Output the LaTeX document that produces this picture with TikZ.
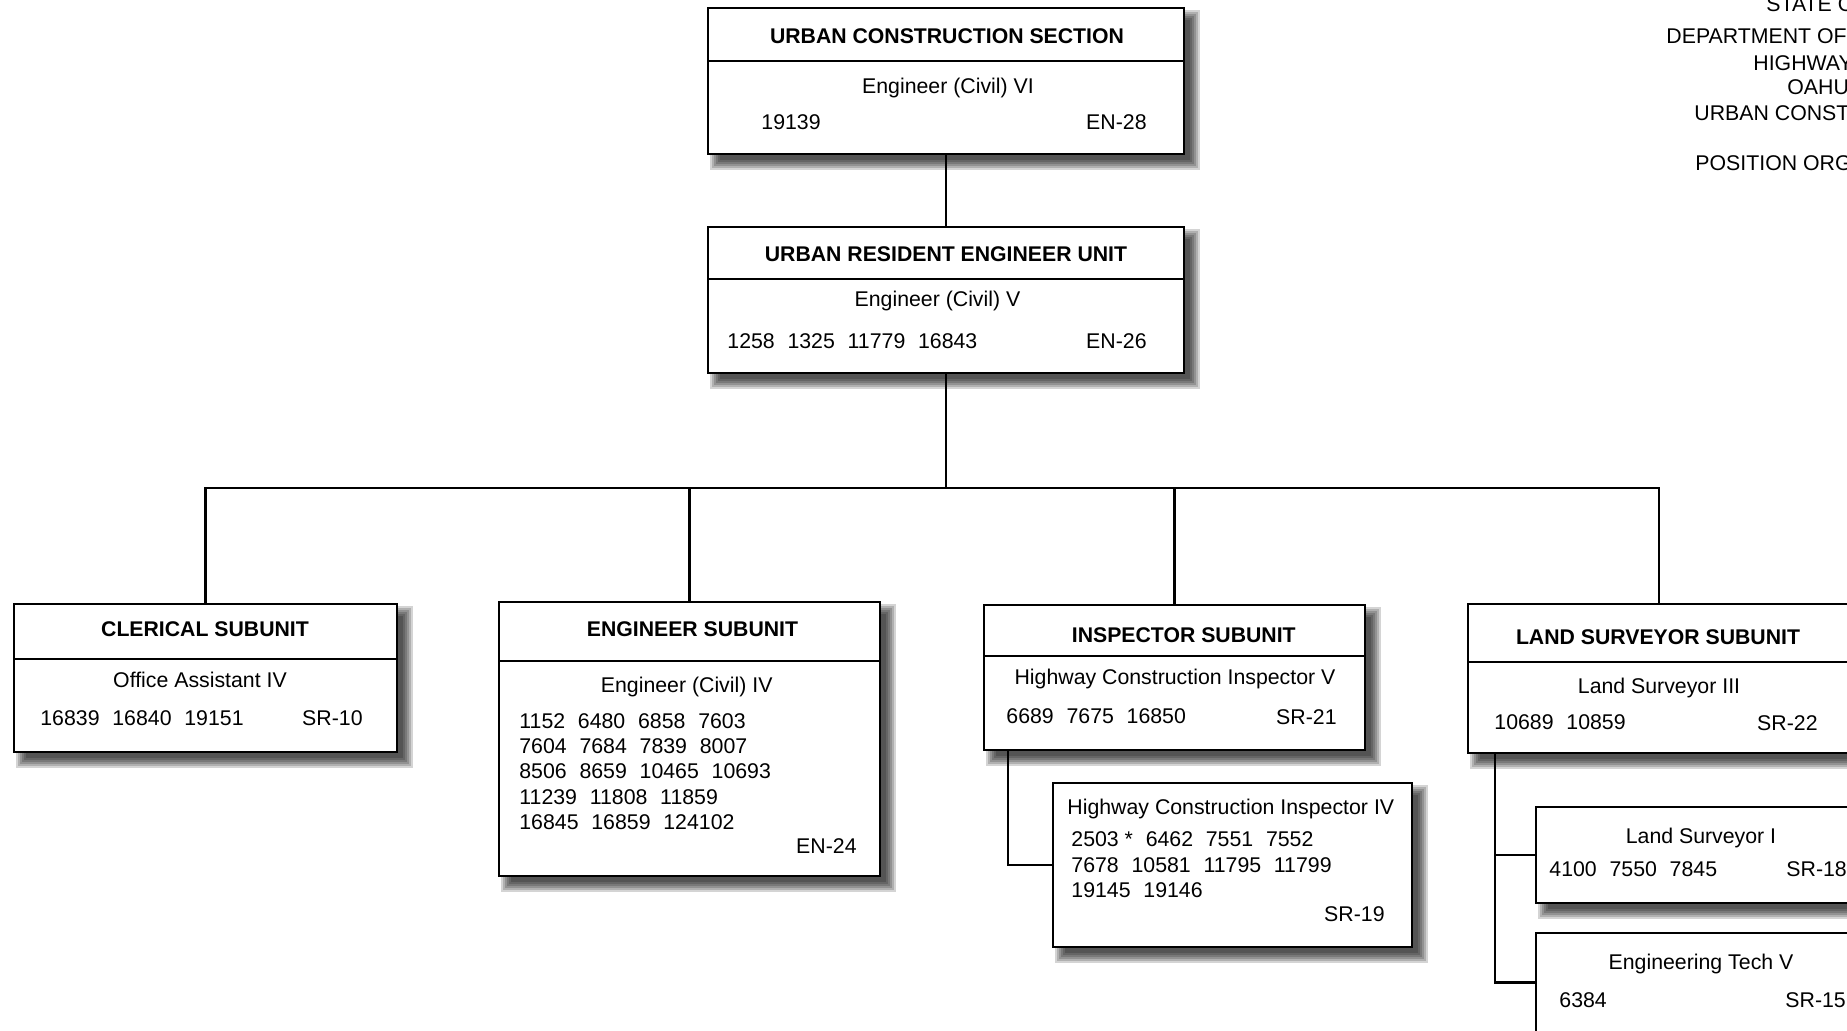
\documentclass[tikz,border=0pt]{standalone}
\usepackage{fontspec}
\setmainfont{Liberation Sans}
\usetikzlibrary{calc}
\pgfdeclarelayer{bg}
\pgfsetlayers{bg,main}

\newcommand\gp{\hspace{0.6em}}
\tikzset{
  orgbox/.style={draw=black, line width=1.35pt, fill=white, rectangle, inner sep=0pt, outer sep=0pt},
  divider/.style={line width=0.65pt},
  link/.style={line width=1.05pt},
  ttl/.style={font=\bfseries\fontsize{10.62}{12}\selectfont, anchor=base, inner sep=0pt},
  txt/.style={font=\fontsize{10.65}{12}\selectfont, anchor=base, inner sep=0pt},
  txtl/.style={txt, anchor=base west},
  txtr/.style={txt, anchor=base east},
}

% name, x1, y1, x2, y2 (pixel units, y downwards)
\newcommand\orgunit[5]{%
  \begin{pgfonlayer}{bg}
    \foreach \r in {7,5,3,1,-1,-3} {%
      \fill[black,opacity=0.17] ({#2+9-(\r)},{#3+9-(\r)}) rectangle ({#4+9+(\r)},{#5+9+(\r)});
    }
  \end{pgfonlayer}
  \node[orgbox, minimum width={(#4-#2)*0.5pt}, minimum height={(#5-#3)*0.5pt}] (#1) at ({(#2+#4)/2},{(#3+#5)/2}) {};
}

\begin{document}
\begin{tikzpicture}[x=0.5pt,y=-0.5pt]
\useasboundingbox (0,0) rectangle (1847,1031);
\clip (0,0) rectangle (1847,1031);

% header (cut off at the right edge)
\node[txtl] (h1) at (1766,12) {STATE O};
\node[txtl] (h2) at (1666,43.5) {DEPARTMENT OF};
\node[txtl] (h3) at (1753,70.5) {HIGHWAY};
\node[txtl] (h4) at (1787,94.5) {OAHU};
\node[txtl] (h5) at (1694,120.5) {URBAN CONST};
\node[txtl] (h6) at (1695,170.5) {POSITION ORG};

% boxes
\orgunit{A}{708}{8}{1184}{154}
\orgunit{B}{708}{227}{1184}{373}
\orgunit{C}{14}{604}{397}{752}
\orgunit{D}{499}{602}{880}{876}
\orgunit{E}{984}{605}{1365}{750}
\orgunit{F}{1053}{783}{1412}{947}
\orgunit{G}{1468}{604}{1850}{753}
\orgunit{H}{1536}{807}{1866}{903}
\orgunit{I}{1536}{933}{1866}{1032}

% dividers
\draw[divider] (A.west |- 0,61) -- (A.east |- 0,61);
\draw[divider] (B.west |- 0,279) -- (B.east |- 0,279);
\draw[divider] (C.west |- 0,659) -- (C.east |- 0,659);
\draw[divider] (D.west |- 0,661) -- (D.east |- 0,661);
\draw[divider] (E.west |- 0,656) -- (E.east |- 0,656);
\draw[divider] (G.west |- 0,662) -- (G.east |- 0,662);

% connectors
\coordinate (bus) at (946,488);
\draw[link] (A.south) -- (B.north);
\draw[link, line width=1.2pt] (B.south) -- (bus);
\draw[link] (C.north) |- (bus);
\draw[link] (D.north) |- (bus);
\draw[link] (E.north) |- (bus);
\draw[link] (G.north) |- (bus);
\draw[link] ([xshift=12pt]E.south west) |- (F.west);
\draw[link] ([xshift=13.5pt]G.south west) |- (H.west);
\draw[link] ([xshift=13.5pt]G.south west) |- (I.west);

% texts A
\node[ttl] (a0) at (947,43.5) {URBAN CONSTRUCTION SECTION};
\node[txt] (a1) at (948,93.5) {Engineer (Civil) VI};
\node[txtl] (a2) at (761,130) {19139};
\node[txtr] (a3) at (1147,130) {EN-28};

% texts B
\node[ttl] (b0) at (946,262) {URBAN RESIDENT ENGINEER UNIT};
\node[txt] (b1) at (937.5,307) {Engineer (Civil) V};
\node[txtl] (b2) at (727,349) {1258\gp1325\gp11779\gp16843};
\node[txtr] (b3) at (1147,349) {EN-26};

% texts C
\node[ttl] (c0) at (205,637) {CLERICAL SUBUNIT};
\node[txt] (c1) at (200,687) {Office Assistant IV};
\node[txtl] (c2) at (40,725) {16839\gp16840\gp19151};
\node[txtr] (c3) at (363,725) {SR-10};

% texts D
\node[ttl] (d0) at (692.5,637) {ENGINEER SUBUNIT};
\node[txt] (d1) at (686.7,692) {Engineer (Civil) IV};
\node[txtl] (d2) at (519,728) {1152\gp6480\gp6858\gp7603};
\node[txtl] (d3) at (519,753.4) {7604\gp7684\gp7839\gp8007};
\node[txtl] (d4) at (519,778.8) {8506\gp8659\gp10465\gp10693};
\node[txtl] (d5) at (519,804.2) {11239\gp11808\gp11859};
\node[txtl] (d6) at (519,829.6) {16845\gp16859\gp124102};
\node[txtr] (d7) at (857,853) {EN-24};

% texts E
\node[ttl] (e0) at (1183.8,642) {INSPECTOR SUBUNIT};
\node[txt] (e1) at (1175,684) {Highway Construction Inspector V};
\node[txtl] (e2) at (1006,723.3) {6689\gp7675\gp16850};
\node[txtr] (e3) at (1337,724) {SR-21};

% texts F
\node[txt] (f1) at (1230.8,814) {Highway Construction Inspector IV};
\node[txtl] (f2) at (1071,846.5) {2503~*\gp6462\gp7551\gp7552};
\node[txtl] (f3) at (1071,872.5) {7678\gp10581\gp11795\gp11799};
\node[txtl] (f4) at (1071,897.5) {19145\gp19146};
\node[txtr] (f5) at (1385,921.5) {SR-19};

% texts G
\node[ttl] (g0) at (1658,644.5) {LAND SURVEYOR SUBUNIT};
\node[txt] (g1) at (1659,693) {Land Surveyor III};
\node[txtl] (g2) at (1494,729.5) {10689\gp10859};
\node[txtr] (g3) at (1818,730) {SR-22};

% texts H
\node[txt] (hh1) at (1701,843) {Land Surveyor I};
\node[txtl] (hh2) at (1549,876.5) {4100\gp7550\gp7845};
\node[txtl] (hh3) at (1786,876.5) {SR-18};

% texts I
\node[txt] (i1) at (1701,969) {Engineering Tech V};
\node[txtl] (i2) at (1559,1007.5) {6384};
\node[txtl] (i3) at (1785,1007.5) {SR-15};
\end{tikzpicture}
\end{document}
